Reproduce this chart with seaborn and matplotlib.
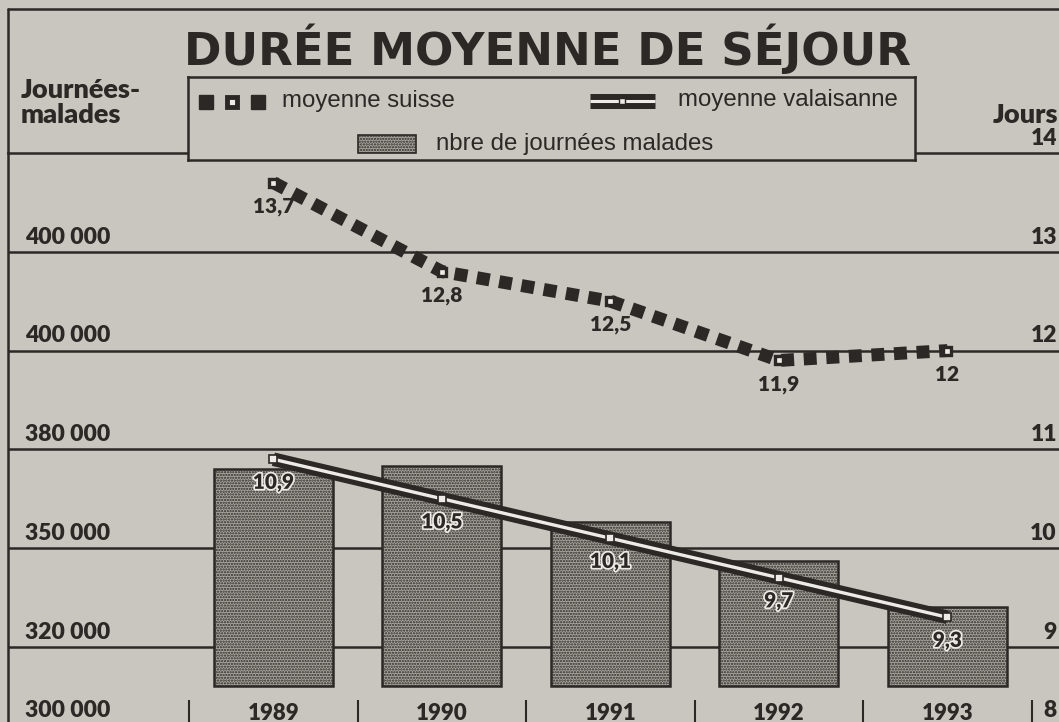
import numpy as np
import matplotlib
matplotlib.use("Agg")
import matplotlib.pyplot as plt
import matplotlib.patheffects as pe
from matplotlib.lines import Line2D
from matplotlib.patches import Rectangle
import seaborn as sns

# ---- data ----
years = ["1989", "1990", "1991", "1992", "1993"]
swiss_days = [13.7, 12.8, 12.5, 11.9, 12.0]        # moyenne suisse (jours)
valais_days = [10.9, 10.5, 10.1, 9.7, 9.3]         # moyenne valaisanne (jours)
patient_days = [374000, 375000, 358000, 346000, 332000]   # nbre de journées malades
bar_floor = 312000

day_ticks = [8, 9, 10, 11, 12, 13, 14]
# journées value sitting on each "Jours" gridline (the left scale is not linear)
left_levels = [300000, 320000, 350000, 380000, 400000, 420000, 440000]
# labels as printed (the paper prints 400 000 twice)
left_labels = ["300 000", "320 000", "350 000", "380 000", "400 000", "400 000"]
right_labels = ["8", "9", "10", "11", "12", "13", "14"]

PAPER = "#c9c6bf"
INK = "#2b2826"
LIGHT = "#ecebe6"
BAR = "#a9a59e"
W, H = 1059, 722


def to_days(v):
    return np.interp(v, left_levels, day_ticks)


def to_journees(d):
    return np.interp(d, day_ticks, left_levels)


def fx(px):
    return px / W


def fy(py):
    return 1 - py / H


sns.set_style("white")
plt.rcParams["font.family"] = ["Lato", "DejaVu Sans"]
plt.rcParams["hatch.linewidth"] = 1.1

fig = plt.figure(figsize=(W / 100, H / 100), dpi=100, facecolor=PAPER)
ax = fig.add_axes([fx(8), 0, (W - 8) / W, 1 - 153 / H])
ax.set_facecolor("none")

# bars (journées malades)
bar_heights = [v - bar_floor for v in patient_days]
sns.barplot(x=years, y=bar_heights, bottom=bar_floor, ax=ax, width=0.706,
            color=BAR, saturation=1, edgecolor=INK, linewidth=1.8,
            hatch="......", zorder=3)
ax.set_yscale("function", functions=(to_days, to_journees))
day_lim = (8.24, 14)
ax.set_ylim(to_journees(day_lim[0]), to_journees(day_lim[1]))
ax.set_xlim(-1.575, 4.662)

# gridlines at the Jours levels 9..13
ax.set_yticks(left_levels[1:6])
ax.grid(axis="y", color=INK, linewidth=1.8)
ax.grid(axis="x", visible=False)
ax.set_axisbelow(True)
ax.tick_params(axis="y", length=0, labelleft=False)
ax.set_ylabel("")
ax.set_xlabel("")

for side in ["right", "bottom"]:
    ax.spines[side].set_visible(False)
for side in ["left", "top"]:
    ax.spines[side].set_color(INK)
    ax.spines[side].set_linewidth(1.8)

# year labels inside the bottom, separators as minor ticks
ax.set_xticks(np.arange(-0.5, len(years)), minor=True)
ax.tick_params(axis="x", which="major", length=0, pad=-14, labelsize=16,
               labelcolor=INK)
ax.tick_params(axis="x", which="minor", bottom=True, direction="in",
               length=15.8, width=1.5, color=INK)
for lbl in ax.get_xticklabels():
    lbl.set_fontweight("heavy")

# lines (jours)
ax2 = ax.twinx()
ax2.set_ylim(*day_lim)
ax2.patch.set_visible(False)
for s in ax2.spines.values():
    s.set_visible(False)
ax2.tick_params(axis="y", length=0, labelright=False)

xpos = np.arange(len(years))
sns.lineplot(x=xpos, y=swiss_days, ax=ax2, color=INK, linewidth=9.3,
             linestyle=(0, (1, 0.75)), dash_capstyle="butt", sort=False,
             estimator=None, zorder=4)
ax2.plot(xpos, swiss_days, ls="none", marker="s", ms=6.2, mfc=LIGHT,
         mec=INK, mew=2.4, zorder=5)

sns.lineplot(x=xpos, y=valais_days, ax=ax2, color=INK, linewidth=9.8,
             solid_capstyle="butt", sort=False, estimator=None, zorder=4)
sns.lineplot(x=xpos, y=valais_days, ax=ax2, color=LIGHT, linewidth=2.4,
             solid_capstyle="butt", sort=False, estimator=None, zorder=5)
ax2.plot(xpos, valais_days, ls="none", marker="s", ms=6.2, mfc=LIGHT,
         mec=INK, mew=1.2, zorder=6)
ax2.set_xlim(-1.575, 4.662)

halo = [pe.withStroke(linewidth=2.5, foreground=LIGHT)]
for x, v in zip(xpos, swiss_days):
    ax2.annotate(f"{v:g}".replace(".", ","), xy=(x, v), xytext=(0, -17),
                 textcoords="offset points", ha="center", va="center",
                 fontsize=15, fontweight="heavy", color=INK, zorder=7)
for x, v in zip(xpos, valais_days):
    ax2.annotate(f"{v:g}".replace(".", ","), xy=(x, v), xytext=(0, -17),
                 textcoords="offset points", ha="center", va="center",
                 fontsize=15, fontweight="heavy", color=INK, zorder=7,
                 path_effects=halo)

# axis labels printed just above each gridline
tick_font = dict(fontsize=16.5, fontweight="heavy", color=INK)
for lvl, lab in zip(day_ticks[1:], left_labels[1:]):
    ax2.annotate(lab, xy=(0.016, lvl), xycoords=("axes fraction", "data"),
                 xytext=(0, 10.5), textcoords="offset points",
                 ha="left", va="center", **tick_font)
for lvl, lab in zip(day_ticks[1:], right_labels[1:]):
    ax2.annotate(lab, xy=(0.998, lvl), xycoords=("axes fraction", "data"),
                 xytext=(0, 10.5), textcoords="offset points",
                 ha="right", va="center", annotation_clip=False, **tick_font)
ax2.text(0.016, 0.02, left_labels[0], transform=ax2.transAxes,
         ha="left", va="center", **tick_font)
ax2.text(0.998, 0.02, right_labels[0], transform=ax2.transAxes,
         ha="right", va="center", **tick_font)

# outer frame
fig.add_artist(Line2D([fx(8), 1], [fy(9), fy(9)], color=INK, lw=1.8))
fig.add_artist(Line2D([fx(8), fx(8)], [fy(9), fy(153)], color=INK, lw=1.8))

# headings
fig.text(fx(548), fy(65), "DURÉE MOYENNE DE SÉJOUR", ha="center",
         va="baseline", fontsize=32.5, fontweight="bold", color=INK,
         family=["DejaVu Sans"])
head_font = dict(fontsize=19.5, fontweight="heavy", color=INK)
fig.text(fx(21), fy(98), "Journées-", ha="left", va="baseline", **head_font)
fig.text(fx(21), fy(123), "malades", ha="left", va="baseline", **head_font)
fig.text(fx(1058), fy(123), "Jours", ha="right", va="baseline", **head_font)

# legend box
lax = fig.add_axes([fx(188), fy(160), (915 - 188) / W, (160 - 77) / H])
lax.set_xlim(188, 915)
lax.set_ylim(160, 77)
lax.set_facecolor(PAPER)
lax.set_xticks([])
lax.set_yticks([])
for s in lax.spines.values():
    s.set_visible(True)
    s.set_color(INK)
    s.set_linewidth(1.8)

lax.plot([206, 258], [102, 102], ls="none", marker="s", ms=10.5, color=INK)
lax.plot([232], [102], ls="none", marker="s", ms=7.0, mfc=LIGHT, mec=INK,
         mew=3.5)
lax.plot([590, 655], [100.5, 100.5], color=INK, lw=10.8,
         solid_capstyle="butt")
lax.plot([590, 655], [100.5, 100.5], color=LIGHT, lw=2.2,
         solid_capstyle="butt")
lax.plot([622], [100.5], ls="none", marker="s", ms=5, mfc=LIGHT, mec=INK,
         mew=1.0)
lax.add_patch(Rectangle((358, 135), 58, 18, facecolor=BAR, edgecolor=INK,
                        hatch="......", lw=1.2))
leg_font = dict(fontsize=17.3, color=INK, family=["Liberation Sans", "DejaVu Sans"],
                va="center")
lax.text(282, 101, "moyenne suisse", **leg_font)
lax.text(678, 100, "moyenne valaisanne", **leg_font)
lax.text(436, 144, "nbre de journées malades", **leg_font)

fig.savefig("out.png", dpi=100, facecolor=PAPER)
